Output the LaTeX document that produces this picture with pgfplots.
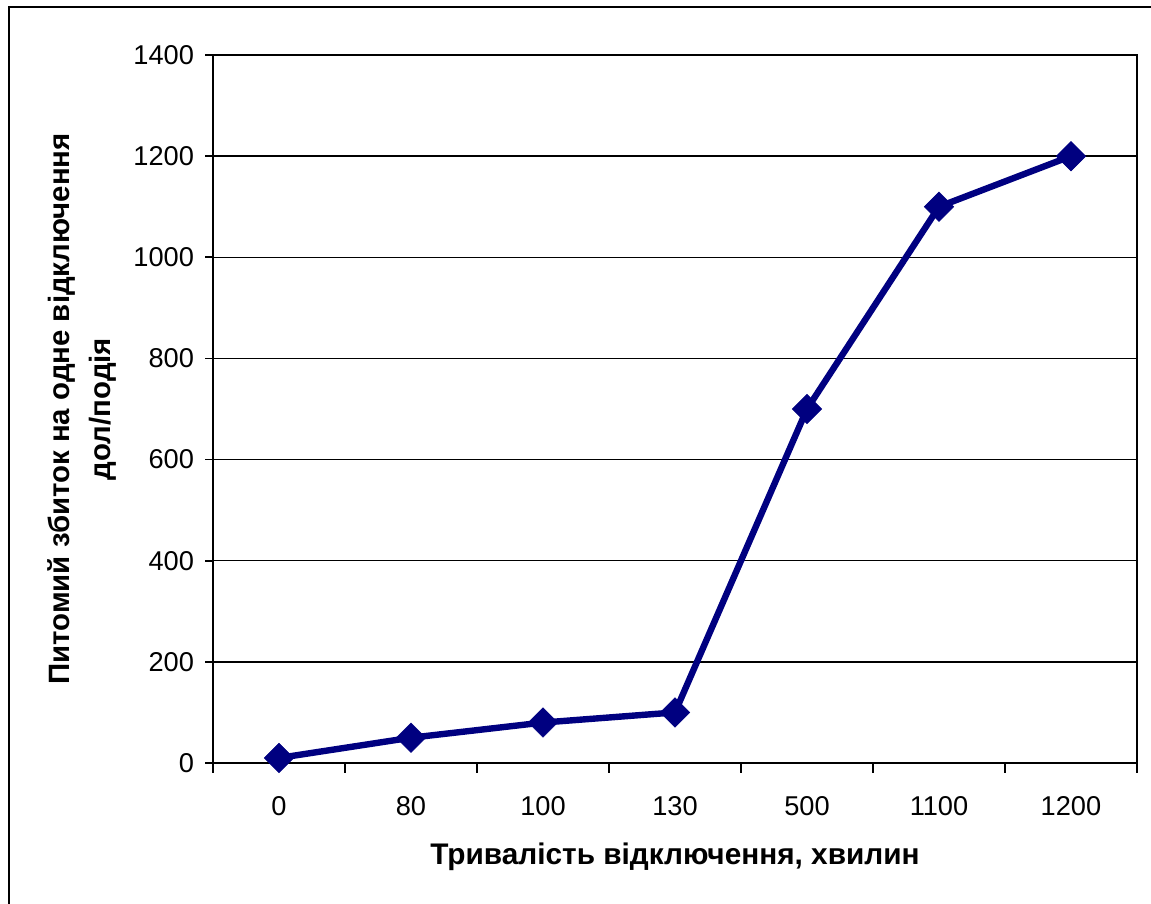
\documentclass[border=0pt]{standalone}
\usepackage{pgfplots}
\pgfplotsset{compat=1.18}
\usepackage{fontspec}
\setmainfont{Liberation Sans}
\definecolor{seriesnavy}{HTML}{000080}
\begin{document}
\begin{tikzpicture}[x=1pt,y=1pt]
\path[use as bounding box] (0,0) rectangle (575.5,452);
% outer frame (top and left edges)
\draw[line width=1.4pt] (4.5,-2) -- (4.5,448.5) -- (578,448.5);
\begin{axis}[
  at={(106.5pt,70.5pt)}, anchor=south west,
  scale only axis, width=462pt, height=354pt,
  xmin=-0.5, xmax=6.5, ymin=0, ymax=1400,
  xtick={0,1,2,3,4,5,6},
  xticklabels={0,80,100,130,500,1100,1200},
  minor xtick={-0.5,0.5,1.5,2.5,3.5,4.5,5.5,6.5},
  ytick={0,200,...,1400},
  major x tick style={draw=none},
  xtick pos=bottom, ytick pos=left,
  tick align=outside,
  major tick length=4pt, minor tick length=5pt,
  tick style={black, line width=0.8pt},
  ymajorgrids,
  grid style={black, line width=0.75pt},
  axis line style={black, line width=1.1pt},
  clip=false,
  ticklabel style={font=\fontsize{13.6}{16}\selectfont},
  /pgf/number format/assume math mode=true,
  /pgf/number format/1000 sep={},
  yticklabel style={anchor=east, xshift=-2pt},
  xticklabel style={anchor=center, yshift=-17.5pt},
  xlabel={Тривалість відключення, хвилин},
  ylabel={Питомий збиток на одне відключення\\дол/подія},
  xlabel style={font=\bfseries\fontsize{14.9}{17}\selectfont, at={(axis description cs:0.5,-0.1328)}, anchor=center},
  ylabel style={font=\bfseries\fontsize{14.7}{20.5}\selectfont, align=center, at={(axis description cs:-0.1418,0.5)}, anchor=center, rotate=0},
]
\addplot[seriesnavy, line width=3.2pt, mark=square*, mark size=5.2pt,
  mark options={solid, rotate=45, fill=seriesnavy, draw=seriesnavy, line width=0.3pt}]
  coordinates {(0,10) (1,50) (2,80) (3,100) (4,700) (5,1100) (6,1200)};
\end{axis}
\end{tikzpicture}
\end{document}
